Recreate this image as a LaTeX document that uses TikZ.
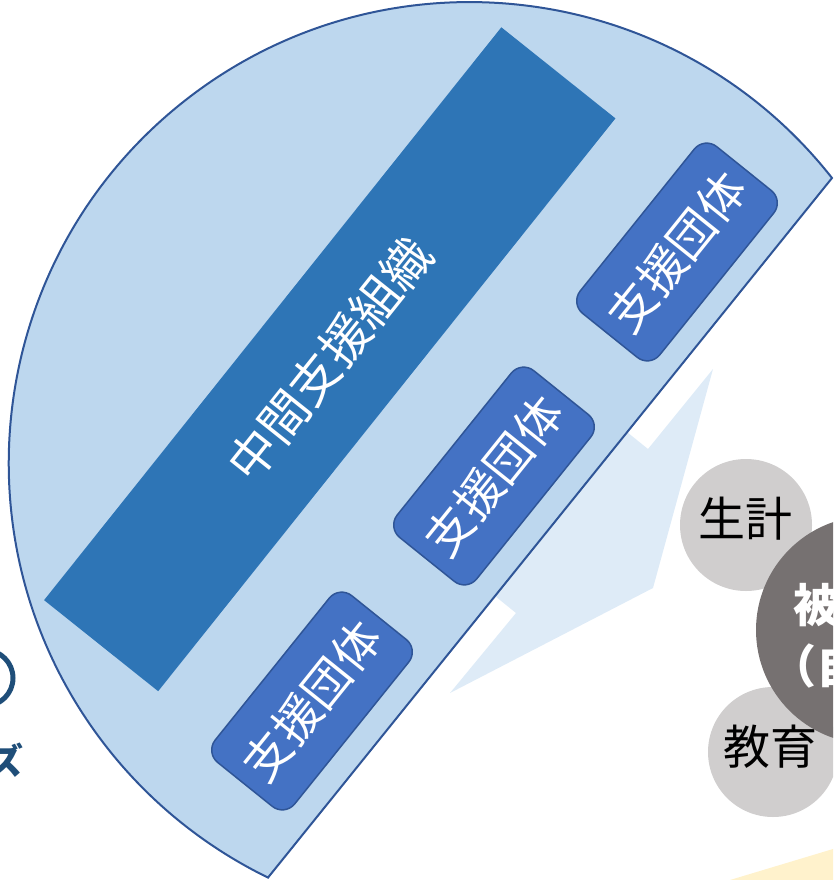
\documentclass[tikz,border=0pt]{standalone}
\usepackage{fontspec}
\newfontfamily\jp{Noto Sans CJK JP}
\definecolor{discfill}{HTML}{BDD7EE}
\definecolor{discline}{HTML}{2F5597}
\definecolor{bandc}{HTML}{2E75B6}
\definecolor{boxc}{HTML}{4472C4}
\definecolor{palec}{HTML}{DEEBF7}
\definecolor{lgray}{HTML}{D0CECE}
\definecolor{dgray}{HTML}{767171}
\definecolor{yellowc}{HTML}{FFF2CC}
\definecolor{navy}{HTML}{1F4E79}
\begin{document}
\begin{tikzpicture}[x=1pt,y=1pt,
  band/.style={fill=bandc, draw=none, minimum width=733pt, minimum height=146pt, inner sep=0pt, text=white, font=\jp\fontsize{49}{58}\selectfont},
  sbox/.style={fill=boxc, draw=discline, line width=1.5pt, rounded corners=16pt, minimum width=214pt, minimum height=102pt, inner sep=0pt, text=white, font=\jp\fontsize{47}{56}\selectfont},
  lightc/.style={circle, fill=lgray, draw=none, inner sep=0pt},
  darkc/.style={circle, fill=dgray, draw=none, inner sep=0pt},
  ctext/.style={inner sep=0pt, text=black, font=\jp\fontsize{47}{56}\selectfont},
]
\useasboundingbox (0,0) rectangle (833,-880);
\clip (0,0) rectangle (833,-880);
% pale yellow shape, bottom right
\fill[yellowc] (720,-883) -- (833,-849) -- (845,-845) -- (845,-895) -- (720,-895) -- cycle;
% pale arrow from the half disc
\fill[palec] (601,-411) -- (648,-449) -- (713,-369) -- (653,-588) -- (450,-693) -- (516,-613) -- (469,-575) -- cycle;
% half disc
\draw[fill=discfill, draw=discline, line width=2pt, line join=miter] (832,-178) arc[start angle=38.2, end angle=244.05, radius=461] -- cycle;
% intermediate support organisation band
\node[band, rotate=51.4] (org) at (329.75,-359.25) {中間支援組織};
% support groups
\node[sbox, rotate=51.2] (grp1) at (677,-252) {支援団体};
\node[sbox, rotate=51.2] (grp2) at (494,-476) {支援団体};
\node[sbox, rotate=51.2] (grp3) at (312,-701) {支援団体};
% circles on the right
\node[lightc, minimum size=132pt] (life) at (746,-525) {};
\node[ctext] (lifet) at (745,-519) {生計};
\node[lightc, minimum size=130pt] (edu) at (773,-752) {};
\node[ctext] (edut) at (770,-747) {教育};
\node[darkc, minimum size=228pt] (victim) at (870,-630) {};
\node[inner sep=0pt, text=white, align=center, font=\jp\bfseries\fontsize{46}{61}\selectfont] (victimt) at (862,-636) {被災者\\（自分）};
% left edge fragments
\draw[navy, line width=5pt] (-15,-678) circle[radius=28];
\node[anchor=east, inner sep=0pt, text=navy, font=\jp\bfseries\fontsize{36}{40}\selectfont] (needs) at (24,-760) {ニーズ};
\end{tikzpicture}
\end{document}
